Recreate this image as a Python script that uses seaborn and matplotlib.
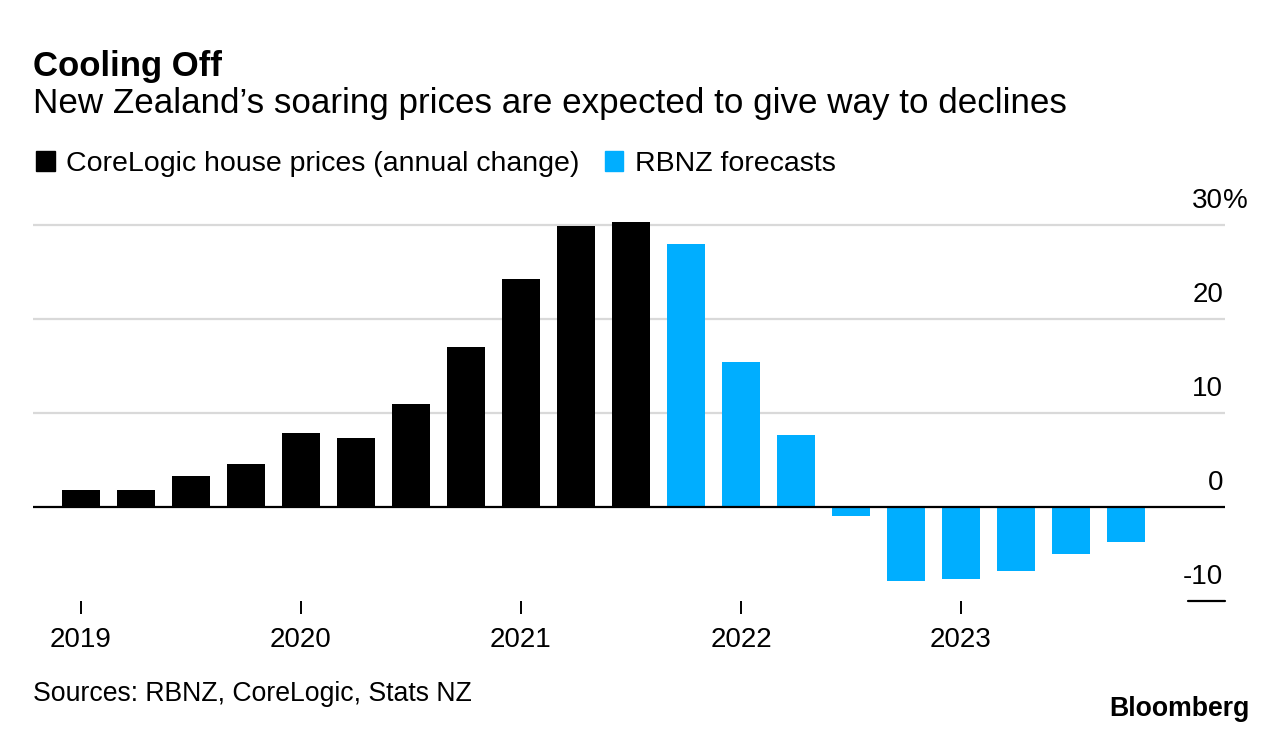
import matplotlib
matplotlib.use("Agg")
import matplotlib.pyplot as plt
import matplotlib.patches as mpatches
import matplotlib.transforms as mtransforms
import seaborn as sns
import pandas as pd

# ---- data ----
quarters = ["2019Q1", "2019Q2", "2019Q3", "2019Q4",
            "2020Q1", "2020Q2", "2020Q3", "2020Q4",
            "2021Q1", "2021Q2", "2021Q3", "2021Q4",
            "2022Q1", "2022Q2", "2022Q3", "2022Q4",
            "2023Q1", "2023Q2", "2023Q3", "2023Q4"]
corelogic = [1.8, 1.8, 3.3, 4.6, 7.9, 7.3, 11.0, 17.0, 24.3, 29.9, 30.3]
rbnz = [28.0, 15.4, 7.7, -1.0, -7.9, -7.7, -6.8, -5.0, -3.7]
series_names = ["CoreLogic house prices (annual change)", "RBNZ forecasts"]
year_labels = ["2019", "2020", "2021", "2022", "2023"]
ytick_vals = [30, 20, 10, 0, -10]

BLACK = "#000000"
BLUE = "#00AEFF"

df = pd.DataFrame({
    "quarter": quarters,
    "value": corelogic + rbnz,
    "series": [series_names[0]] * len(corelogic) + [series_names[1]] * len(rbnz),
})

sns.set_theme(style="white")
plt.rcParams["font.family"] = ["Liberation Sans", "DejaVu Sans"]
plt.rcParams["text.color"] = "black"
plt.rcParams["xtick.color"] = "black"
plt.rcParams["xtick.labelcolor"] = "black"

W, H = 1281, 744
fig = plt.figure(figsize=(W / 100, H / 100), dpi=100)
fig.patch.set_facecolor("white")

# axes placement in pixels
ax_left, ax_right = 33, 1225
ymin, ymax = -10, 31.5
px_per_unit = (601 - 225) / 40.0
ax_bottom_px = 601
ax_top_px = 225 - (ymax - 30) * px_per_unit
ax = fig.add_axes([ax_left / W, 1 - ax_bottom_px / H,
                   (ax_right - ax_left) / W, (ax_bottom_px - ax_top_px) / H])

sns.barplot(data=df, x="quarter", y="value", hue="series",
            palette={series_names[0]: BLACK, series_names[1]: BLUE},
            dodge=False, width=0.69, ax=ax, legend=False,
            saturation=1, linewidth=0)

ax.set_xlim(-0.87, 20.8)
ax.set_ylim(ymin, ymax)

# gridlines
for v in [10, 20, 30]:
    ax.axhline(v, color="#d9d9d9", lw=1.6, zorder=0)
ax.axhline(0, color="black", lw=1.6, zorder=3)
ax.plot([0.969, 1.0], [-10, -10], color="black", lw=1.6,
        transform=mtransforms.blended_transform_factory(ax.transAxes, ax.transData),
        clip_on=False)

for s in ax.spines.values():
    s.set_visible(False)

# y labels (right side, above lines)
ytr = mtransforms.blended_transform_factory(ax.transAxes, ax.transData)
off = mtransforms.ScaledTranslation(0, 17 / 100, fig.dpi_scale_trans)
lx = (1223 - ax_left) / (ax_right - ax_left)
for v in ytick_vals:
    ax.text(lx, v, f"{v}", ha="right", va="baseline", fontsize=20,
            color="black", transform=ytr + off)
ax.text(lx, 30, "%", ha="left", va="baseline", fontsize=20,
        color="black", transform=ytr + off)
ax.set_yticks([])
ax.set_ylabel("")
ax.set_xlabel("")

# x ticks
ax.set_xticks([0, 4, 8, 12, 16])
ax.set_xticklabels(year_labels, fontsize=20)
ax.tick_params(axis="x", direction="out", length=9, width=1.4,
               color="black", pad=10, bottom=True, labelcolor="black")

# titles
fig.text(33 / W, 1 - 76 / H, "Cooling Off", fontsize=25, fontweight="bold",
         ha="left", va="baseline")
fig.text(33 / W, 1 - 113 / H, "New Zealand\u2019s soaring prices are expected to give way to declines",
         fontsize=25.2, ha="left", va="baseline")

# legend
handles = [mpatches.Patch(color=BLACK, label=series_names[0]),
           mpatches.Patch(color=BLUE, label=series_names[1])]
fig.legend(handles=handles, loc="center left",
           bbox_to_anchor=(36 / W, 1 - 164 / H), ncol=2, frameon=False,
           fontsize=20.5, handlelength=0.65, handleheight=0.65,
           handletextpad=0.42, columnspacing=0.88, borderaxespad=0,
           borderpad=0, labelcolor="black")

# footer
fig.text(33 / W, 1 - 701 / H, "Sources: RBNZ, CoreLogic, Stats NZ",
         fontsize=19.2, ha="left", va="baseline")
fig.text(1250 / W, 1 - 716 / H, "Bloomberg", fontsize=19.2, fontweight="bold",
         ha="right", va="baseline")

fig.savefig("out.png", dpi=100, facecolor="white")
